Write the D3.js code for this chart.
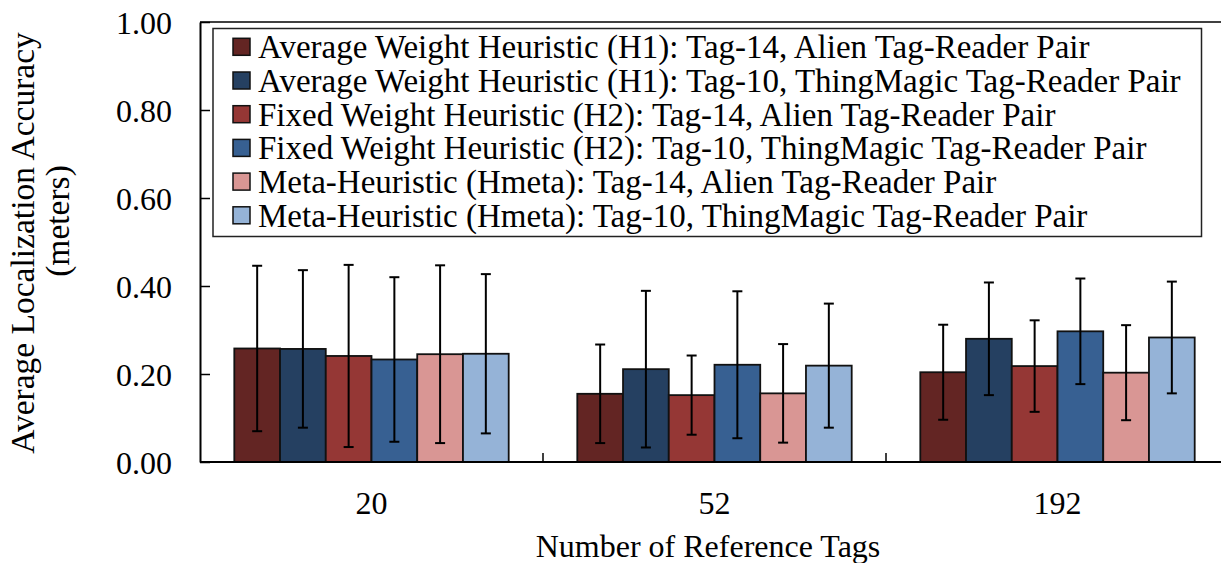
<!DOCTYPE html>
<html>
<head>
<meta charset="utf-8">
<script src="https://cdn.jsdelivr.net/npm/d3@7"></script>
<style>
  html, body { margin: 0; padding: 0; background: #fff; }
  svg text { font-family: "Liberation Serif", "Times New Roman", serif; fill: #000; }
</style>
</head>
<body>
<svg id="chart" width="1221" height="563"></svg>
<script>
// Number of reference tags (x categories)
const categories = ["20", "52", "192"];

// Series labels and fills
const seriesNames = [
  "Average Weight Heuristic (H1): Tag-14, Alien Tag-Reader Pair",
  "Average Weight Heuristic (H1): Tag-10, ThingMagic Tag-Reader Pair",
  "Fixed Weight Heuristic (H2): Tag-14, Alien Tag-Reader Pair",
  "Fixed Weight Heuristic (H2): Tag-10, ThingMagic Tag-Reader Pair",
  "Meta-Heuristic (Hmeta): Tag-14, Alien Tag-Reader Pair",
  "Meta-Heuristic (Hmeta): Tag-10, ThingMagic Tag-Reader Pair"
];
const seriesColors = ["#632523", "#254061", "#953735", "#376092", "#d99694", "#95b3d7"];

// Mean localization accuracy (meters) per series, ordered as categories
const h1Alien = [0.258, 0.155, 0.204];
const h1Thing = [0.257, 0.211, 0.280];
const h2Alien = [0.241, 0.152, 0.218];
const h2Thing = [0.233, 0.221, 0.297];
const hmAlien = [0.245, 0.156, 0.203];
const hmThing = [0.246, 0.219, 0.283];

// Standard deviation (symmetric error bars)
const h1AlienErr = [0.188, 0.112, 0.108];
const h1ThingErr = [0.179, 0.178, 0.128];
const h2AlienErr = [0.207, 0.090, 0.104];
const h2ThingErr = [0.187, 0.167, 0.120];
const hmAlienErr = [0.202, 0.112, 0.108];
const hmThingErr = [0.181, 0.141, 0.127];

const yTicks = [0, 0.2, 0.4, 0.6, 0.8, 1.0];

const means = [h1Alien, h1Thing, h2Alien, h2Thing, hmAlien, hmThing];
const errs = [h1AlienErr, h1ThingErr, h2AlienErr, h2ThingErr, hmAlienErr, hmThingErr];

const rows = [];
categories.forEach((c, ci) => {
  means.forEach((m, si) => {
    rows.push({ cat: c, s: si, v: m[ci], e: errs[si][ci] });
  });
});

const svg = d3.select("#chart");
const plotLeft = 200, plotTop = 22, plotBottom = 462, plotRight = 1229;

const x = d3.scaleBand().domain(categories).range([plotLeft, plotRight]).padding(0);
const xs = d3.scaleBand().domain(d3.range(seriesNames.length))
  .range([0, x.bandwidth()]).paddingInner(0).paddingOuter(0.75);
const y = d3.scaleLinear().domain([0, 1]).range([plotBottom, plotTop]);

// Plot frame: top rule across the plot
svg.append("line")
  .attr("x1", plotLeft).attr("x2", 1221).attr("y1", plotTop).attr("y2", plotTop)
  .attr("stroke", "#000").attr("stroke-width", 1.5);

// Bars
svg.append("g").selectAll("rect").data(rows).join("rect")
  .attr("x", d => x(d.cat) + xs(d.s))
  .attr("y", d => y(d.v))
  .attr("width", xs.bandwidth())
  .attr("height", d => y(0) - y(d.v))
  .attr("fill", d => seriesColors[d.s])
  .attr("stroke", "#111")
  .attr("stroke-width", 1.8);

// Error bars
const eb = svg.append("g").attr("stroke", "#000").attr("stroke-width", 2);
const cx = d => x(d.cat) + xs(d.s) + xs.bandwidth() / 2;
eb.selectAll("line.v").data(rows).join("line").attr("class", "v")
  .attr("x1", cx).attr("x2", cx)
  .attr("y1", d => y(d.v + d.e)).attr("y2", d => y(d.v - d.e));
eb.selectAll("line.t").data(rows).join("line").attr("class", "t")
  .attr("x1", d => cx(d) - 5).attr("x2", d => cx(d) + 5)
  .attr("y1", d => y(d.v + d.e)).attr("y2", d => y(d.v + d.e));
eb.selectAll("line.b").data(rows).join("line").attr("class", "b")
  .attr("x1", d => cx(d) - 5).attr("x2", d => cx(d) + 5)
  .attr("y1", d => y(d.v - d.e)).attr("y2", d => y(d.v - d.e));

// Y axis (ticks point into the plot)
const yAxis = svg.append("g").attr("transform", `translate(${plotLeft},0)`)
  .call(d3.axisLeft(y).tickValues(yTicks).tickFormat(d3.format(".2f"))
    .tickSizeInner(-10).tickSizeOuter(0).tickPadding(28));
yAxis.select(".domain").attr("stroke", "#000").attr("stroke-width", 2);
yAxis.selectAll(".tick line").attr("stroke", "#000").attr("stroke-width", 1.5);
yAxis.selectAll(".tick text")
  .attr("font-size", 32).attr("font-family", "Liberation Serif")
  .attr("dy", "0.36em").attr("fill", "#000");

// X axis: separators between categories, labels under each group
const xAxis = svg.append("g").attr("transform", `translate(0,${plotBottom})`);
xAxis.append("line").attr("x1", plotLeft).attr("x2", 1221)
  .attr("stroke", "#000").attr("stroke-width", 2);
xAxis.selectAll("line.sep").data(categories.slice(1)).join("line").attr("class", "sep")
  .attr("x1", d => x(d)).attr("x2", d => x(d))
  .attr("y1", 0).attr("y2", -9)
  .attr("stroke", "#000").attr("stroke-width", 1.5);
xAxis.selectAll("text").data(categories).join("text")
  .attr("x", d => x(d) + x.bandwidth() / 2)
  .attr("y", 52)
  .attr("text-anchor", "middle")
  .attr("font-size", 32)
  .text(d => d);

// Axis titles
svg.append("text")
  .attr("x", 708).attr("y", 557)
  .attr("text-anchor", "middle").attr("font-size", 32)
  .text("Number of Reference Tags");

svg.append("text")
  .attr("transform", "translate(34,243) rotate(-90)")
  .attr("text-anchor", "middle").attr("font-size", 33.5)
  .text("Average Localization Accuracy");
svg.append("text")
  .attr("transform", "translate(69,221) rotate(-90)")
  .attr("text-anchor", "middle").attr("font-size", 33.5)
  .text("(meters)");

// Legend
const legend = svg.append("g");
legend.append("rect")
  .attr("x", 213).attr("y", 28.5).attr("width", 988.5).attr("height", 208)
  .attr("fill", "#fff").attr("stroke", "#222").attr("stroke-width", 1.5);
const items = legend.selectAll("g.item").data(seriesNames).join("g").attr("class", "item")
  .attr("transform", (d, i) => `translate(0,${58.3 + i * 33.7})`);
items.append("rect")
  .attr("x", 233).attr("y", -20).attr("width", 17).attr("height", 17)
  .attr("fill", (d, i) => seriesColors[i])
  .attr("stroke", "#111").attr("stroke-width", 1.5);
items.append("text")
  .attr("x", 258).attr("y", 0)
  .attr("font-size", 33)
  .text(d => d);
</script>
</body>
</html>
